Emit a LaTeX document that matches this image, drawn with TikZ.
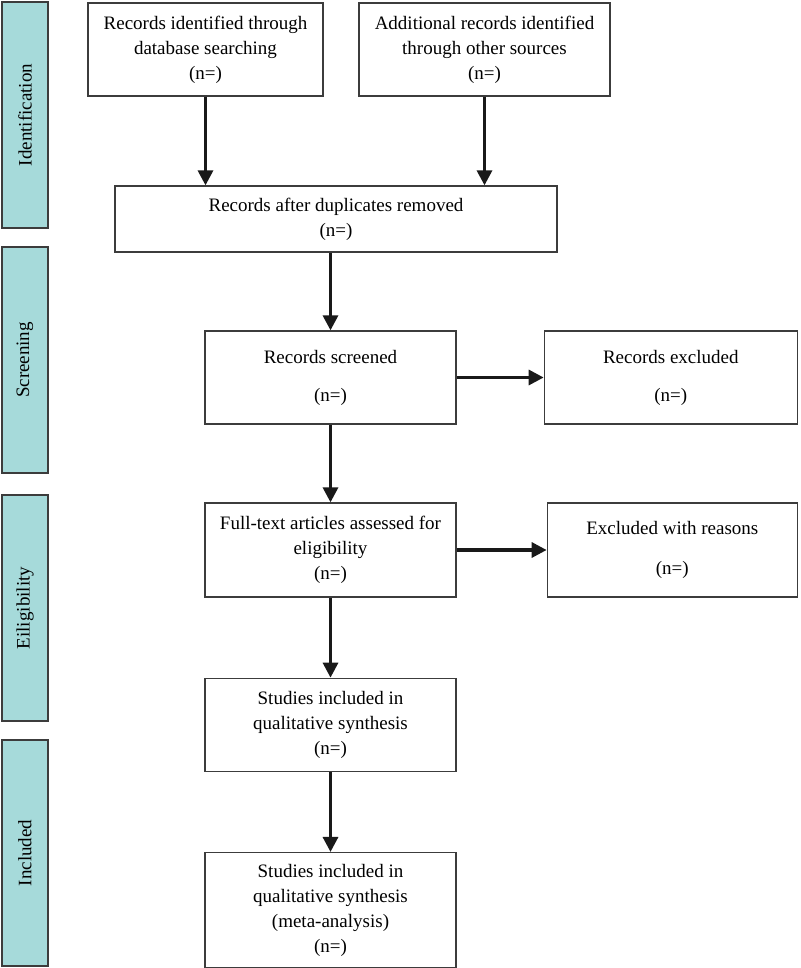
\documentclass[tikz,border=0pt]{standalone}
\usepackage{fontspec}
\setmainfont{Liberation Serif}
\usetikzlibrary{arrows.meta,positioning}
\definecolor{stagefill}{RGB}{166,218,218}
\definecolor{edgegray}{RGB}{60,60,60}
\newcommand\flowfont{\fontsize{19}{25}\selectfont}
\tikzset{
  stagebar/.style={draw=edgegray, line width=1.6pt, fill=stagefill,
    minimum width=226pt, minimum height=46pt, inner sep=0pt,
    rotate=90, font=\flowfont},
  recbox/.style={draw=edgegray, line width=1.3pt, fill=white,
    align=center, inner sep=0pt, font=\flowfont,
    minimum width=251pt, minimum height=93pt},
  flowarr/.style={draw=black!90, line width=3.2pt,
    -{Triangle[length=15pt,width=15pt]}}
}
\begin{document}
\begin{tikzpicture}[x=1pt,y=-1pt]
\useasboundingbox (0,0) rectangle (800,968);
% stage bars
\node[stagebar] (ident) at (25,115) {Identification};
\node[stagebar] (screen) at (25,360) {Screening};
\node[stagebar] (elig) at (25,608) {Eiligibility};
\node[stagebar] (incl) at (25,853) {Included};
% identification
\node[recbox, minimum width=235pt] (dbrec) at (205.5,49.5)
     {Records identified through\\database searching\\(n=)};
\node[recbox] (otherrec) at (484.5,49.5)
     {Additional records identified\\through other sources\\(n=)};
\node[recbox, minimum width=442pt, minimum height=66pt] (dedup) at (336,219)
     {Records after duplicates removed\\(n=)};
% screening
\node[recbox] (screened) at (330.5,377.5) {Records screened\\[13pt](n=)};
\node[recbox, minimum width=253pt, right=87pt of screened] (excl)
     {Records excluded\\[13pt](n=)};
% eligibility
\node[recbox, minimum height=94pt] (fulltext) at (330.5,550)
     {Full-text articles assessed for\\eligibility\\(n=)};
\node[recbox, minimum width=250pt, minimum height=94pt,
      right=90pt of fulltext] (exclreas) {Excluded with reasons\\[15pt](n=)};
% included
\node[recbox, below=80pt of fulltext] (qualsyn)
     {Studies included in\\qualitative synthesis\\(n=)};
\node[recbox, minimum height=115pt, below=80pt of qualsyn] (metasyn)
     {Studies included in\\qualitative synthesis\\(meta-analysis)\\(n=)};
% arrows
\draw[flowarr] (dbrec.south) -- (dbrec.south |- dedup.north);
\draw[flowarr] (otherrec.south) -- (otherrec.south |- dedup.north);
\draw[flowarr] (screened.north |- dedup.south) -- (screened.north);
\draw[flowarr] (screened.east) -- (excl.west);
\draw[flowarr] (screened.south) -- (fulltext.north);
\draw[flowarr] (fulltext.east) -- (exclreas.west);
\draw[flowarr] (fulltext.south) -- (qualsyn.north);
\draw[flowarr] (qualsyn.south) -- (metasyn.north);
\end{tikzpicture}
\end{document}
